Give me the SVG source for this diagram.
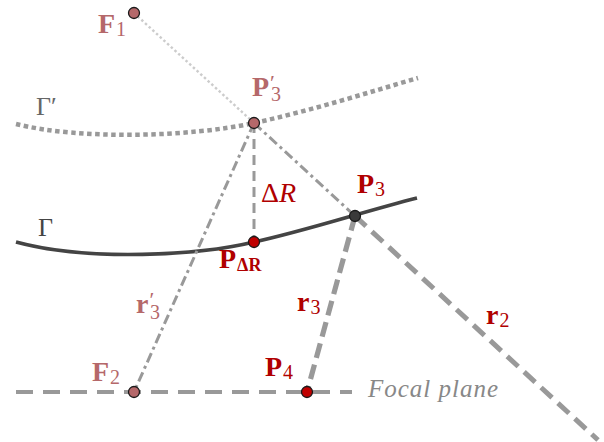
<svg xmlns="http://www.w3.org/2000/svg" width="604" height="442" viewBox="0 0 604 442">
<style>
.lbl{font-family:"Liberation Serif","DejaVu Serif",serif;font-weight:bold;font-size:28px}
.rose{fill:#b5686a}
.red{fill:#b00000}
.sub{font-weight:normal;font-size:20px}
.pr{font-weight:normal;font-size:22px}
.pt{stroke:#1a1a1a;stroke-width:1.3}
.g{fill:none;stroke:#999;stroke-linecap:butt}
</style>
<rect width="604" height="442" fill="#fff"/>
<g id="connectors">
<line x1="134" y1="13" x2="254" y2="123" stroke="#ccc" stroke-width="2.4" stroke-dasharray="2.5 2.5" fill="none"/>
<path id="gamma-prime" d="M16,124 C80,140 190,137 254,123 C310,111 370,92 418,78" class="g" stroke-width="4.5" stroke-dasharray="4.5 3.5"/>
<path id="gamma" d="M16,242 C90,262 200,255 254,242 C305,231 362,212 417,198" fill="none" stroke="#444" stroke-width="3.6"/>
<line x1="254" y1="123" x2="254" y2="242" class="g" stroke-width="3" stroke-dasharray="10 6"/>
<line x1="254" y1="123" x2="355" y2="216" class="g" stroke-width="3" stroke-dasharray="10 4 3 4"/>
<line x1="355" y1="216" x2="598" y2="440" class="g" stroke-width="5" stroke-dasharray="15 8"/>
<line x1="254" y1="123" x2="134" y2="392" class="g" stroke-width="3" stroke-dasharray="10 4 3 4"/>
<line x1="355" y1="216" x2="307" y2="392" class="g" stroke-width="5.2" stroke-dasharray="15 7"/>
<line x1="16" y1="392" x2="352" y2="392" class="g" stroke-width="3.8" stroke-dasharray="17 10"/>
</g>
<g id="label-gamma-prime"><text x="36" y="115" font-family="Liberation Serif,serif" font-size="26" fill="#666">Γ′</text></g>
<g id="label-gamma"><text x="38" y="236" font-family="Liberation Serif,serif" font-size="26" fill="#444">Γ</text></g>
<g id="label-deltaR"><text x="261" y="202" font-family="Liberation Serif,serif" font-size="28" fill="#b00000">Δ<tspan font-style="italic">R</tspan></text></g>
<g id="label-focal"><text x="368" y="397" font-family="Liberation Serif,serif" font-style="italic" font-size="25" letter-spacing="1" fill="#888">Focal plane</text></g>
<g id="F1"><circle cx="134" cy="13" r="5.5" fill="#b5686a" class="pt"/><text x="98" y="33" class="lbl rose">F<tspan class="sub" dx="1" dy="3">1</tspan></text></g>
<g id="P3prime"><circle cx="254" cy="123" r="5.5" fill="#b5686a" class="pt"/><text x="252" y="96" class="lbl rose">P<tspan class="pr" dx="1" dy="-6">′</tspan></text><text x="271" y="101" class="lbl sub rose">3</text></g>
<g id="PdR"><circle cx="254" cy="242" r="5.5" fill="#c00000" class="pt"/><text x="219" y="268" class="lbl red">P<tspan font-size="18" dx="1" dy="3">ΔR</tspan></text></g>
<g id="P3"><circle cx="355" cy="216" r="5.5" fill="#3a3a3a" class="pt"/><text x="357" y="193" class="lbl red">P<tspan class="sub" dx="1" dy="3">3</tspan></text></g>
<g id="F2"><circle cx="134" cy="392" r="5.5" fill="#b5686a" class="pt"/><text x="92" y="381" class="lbl rose">F<tspan class="sub" dx="1" dy="3">2</tspan></text></g>
<g id="P4"><circle cx="307" cy="392" r="5.5" fill="#c00000" class="pt"/><text x="265" y="376" class="lbl red">P<tspan class="sub" dx="1" dy="3">4</tspan></text></g>
<g id="label-r3prime"><text x="136" y="313" class="lbl rose">r<tspan class="pr" dx="1" dy="-6">′</tspan></text><text x="150" y="319" class="lbl sub rose">3</text></g>
<g id="label-r3"><text x="297" y="311" class="lbl red">r<tspan class="sub" dx="1" dy="3">3</tspan></text></g>
<g id="label-r2"><text x="486" y="324" class="lbl red">r<tspan class="sub" dx="1" dy="3">2</tspan></text></g>
</svg>
